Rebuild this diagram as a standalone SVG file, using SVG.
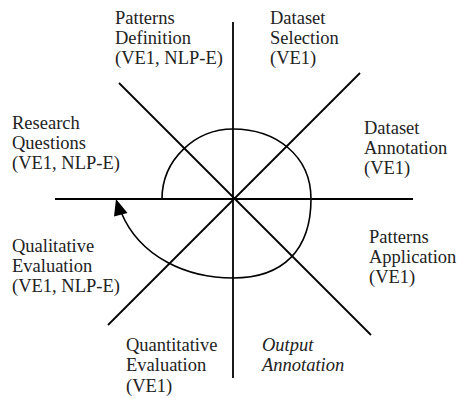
<svg xmlns="http://www.w3.org/2000/svg" width="457" height="398" viewBox="0 0 457 398">
  <style>
    .axis { stroke: #000; stroke-width: 1.8; fill: none; }
    .loop { stroke: #000; stroke-width: 1.6; fill: none; }
    .lbl { font-family: 'Liberation Serif', 'DejaVu Serif', serif; font-size: 18.5px; fill: #222; }
    .it { font-style: italic; }
  </style>

  <!-- spokes and cycle loop -->
  <g id="connectors">
    <line class="axis" x1="55" y1="199" x2="413" y2="199"/>
    <line class="axis" x1="233" y1="22" x2="233" y2="378"/>
    <line class="axis" x1="119" y1="83" x2="371" y2="335"/>
    <line class="axis" x1="360" y1="73" x2="108" y2="325"/>
    <path class="loop"
          d="M162,199 C162,160 195,129 233,129 C275,129 311,155 311,199 C311,250 283,278 233,278 C188,278 140,258 121,212"/>
    <polygon points="116,199 114,216.5 127.5,213" fill="#000"/>
  </g>

  <g class="lbl">
    <g id="patterns-definition">
      <text x="115" y="23.5">Patterns</text>
      <text x="115" y="43.5">Definition</text>
      <text x="115" y="63.5">(VE1, NLP-E)</text>
    </g>
    <g id="dataset-selection">
      <text x="270" y="23.5">Dataset</text>
      <text x="270" y="43.5">Selection</text>
      <text x="270" y="63.5">(VE1)</text>
    </g>
    <g id="research-questions">
      <text x="12" y="128.5">Research</text>
      <text x="12" y="148.5">Questions</text>
      <text x="12" y="168.5">(VE1, NLP-E)</text>
    </g>
    <g id="dataset-annotation">
      <text x="364" y="133.5">Dataset</text>
      <text x="364" y="153.5">Annotation</text>
      <text x="364" y="173.5">(VE1)</text>
    </g>
    <g id="qualitative-evaluation">
      <text x="12" y="251.5">Qualitative</text>
      <text x="12" y="271.5">Evaluation</text>
      <text x="12" y="291.5">(VE1, NLP-E)</text>
    </g>
    <g id="patterns-application">
      <text x="369" y="243">Patterns</text>
      <text x="369" y="263">Application</text>
      <text x="369" y="283">(VE1)</text>
    </g>
    <g id="quantitative-evaluation">
      <text x="126" y="350.5">Quantitative</text>
      <text x="126" y="371">Evaluation</text>
      <text x="126" y="391.5">(VE1)</text>
    </g>
    <g id="output-annotation">
      <text class="it" x="262" y="351">Output</text>
      <text class="it" x="262" y="371">Annotation</text>
    </g>
  </g>
</svg>
